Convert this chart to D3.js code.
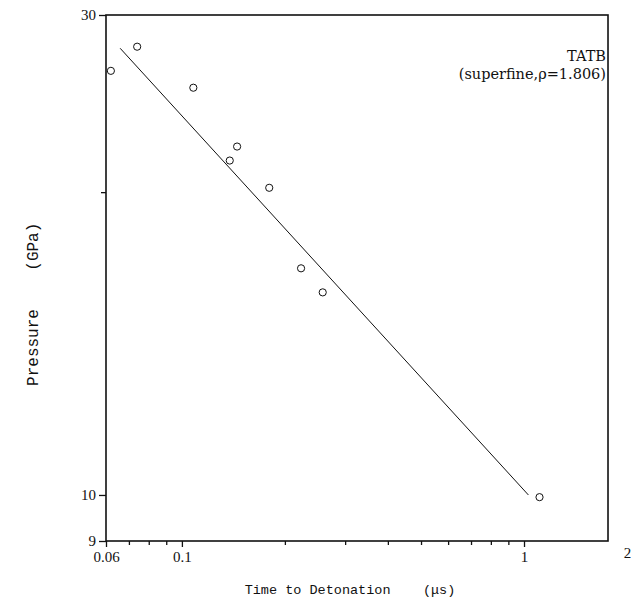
<!DOCTYPE html>
<html>
<head>
<meta charset="utf-8">
<script src="https://cdn.jsdelivr.net/npm/d3@7"></script>
<style>
  body { margin: 0; background: #fff; }
  svg { display: block; }
</style>
</head>
<body>
<svg width="631" height="608"></svg>
<script>
// measured points: time to detonation (us) vs pressure (GPa)
var timeUs      = [0.062, 0.074, 0.108, 0.138, 0.145, 0.180, 0.223, 0.258, 1.11];
var pressureGPa = [26.4,  27.9,  25.4,  21.5,  22.2,  20.2,  16.8,  15.9,  9.95];

// fitted line end points
var fitTime     = [0.066, 1.03];
var fitPressure = [27.8, 10.0];

var xTickValues = [0.06, 0.1, 1, 2];
var xTickLabels = ["0.06", "0.1", "1", "2"];
var xMinorTicks = [0.07, 0.08, 0.09, 0.2, 0.3, 0.4, 0.5, 0.6, 0.7, 0.8, 0.9];
var yTickValues = [9, 10, 30];
var yTickLabels = ["9", "10", "30"];
var yMinorTicks = [20];

var xDomain = [0.06, 2],
    yDomain = [9, 30],
    xFrameEnd = 1.76;   // right edge of the box in the original

var svg = d3.select("svg"),
    margin = {top: 15, left: 106},
    width = 521,
    height = 526,
    g = svg.append("g").attr("transform", "translate(" + margin.left + "," + margin.top + ")");

var x = d3.scaleLog().domain(xDomain).range([0, width]),
    y = d3.scaleLog().domain(yDomain).range([height, 0]);

var ink = "#111";

// frame
g.append("rect")
    .attr("x", x(xDomain[0]))
    .attr("y", y(yDomain[1]))
    .attr("width", x(xFrameEnd) - x(xDomain[0]))
    .attr("height", y(yDomain[0]) - y(yDomain[1]))
    .attr("fill", "none")
    .attr("stroke", ink)
    .attr("stroke-width", 1.6);

// bottom axis
var xAxis = g.append("g")
    .attr("transform", "translate(0," + height + ")")
    .call(d3.axisBottom(x)
      .tickValues(xTickValues)
      .tickFormat(function(d, i) { return xTickLabels[i]; })
      .tickSize(6)
      .tickPadding(4));

g.append("g")
    .attr("transform", "translate(0," + height + ")")
    .call(d3.axisBottom(x).tickValues(xMinorTicks).tickFormat("").tickSize(4));

// left axis
g.append("g")
    .call(d3.axisLeft(y)
      .tickValues(yTickValues)
      .tickFormat(function(d, i) { return yTickLabels[i]; })
      .tickSize(7)
      .tickPadding(3));

g.append("g")
    .call(d3.axisLeft(y).tickValues(yMinorTicks).tickFormat("").tickSize(5));

g.selectAll(".domain").remove();
g.selectAll(".tick line").attr("stroke", ink).attr("stroke-width", 1.3);
g.selectAll(".tick text")
    .attr("fill", ink)
    .style("font", "15px 'Liberation Serif', serif");

// the "2" sits past the box, a little higher, with no tick
var two = xAxis.selectAll(".tick").filter(function(d) { return d === 2; });
two.select("line").remove();
two.select("text").attr("y", 6);

// fit line
var line = d3.line()
    .x(function(d) { return x(d[0]); })
    .y(function(d) { return y(d[1]); });

g.append("path")
    .datum(d3.zip(fitTime, fitPressure))
    .attr("d", line)
    .attr("fill", "none")
    .attr("stroke", ink)
    .attr("stroke-width", 1);

// points
g.selectAll(".pt")
    .data(d3.zip(timeUs, pressureGPa))
  .enter().append("circle")
    .attr("class", "pt")
    .attr("cx", function(d) { return x(d[0]); })
    .attr("cy", function(d) { return y(d[1]); })
    .attr("r", 3.6)
    .attr("fill", "none")
    .attr("stroke", ink)
    .attr("stroke-width", 1);

// label
var note = g.append("text")
    .attr("text-anchor", "end")
    .attr("fill", ink)
    .style("font", "14.5px 'DejaVu Serif', serif");
note.append("tspan").attr("x", x(xFrameEnd) - 2).attr("y", 46).text("TATB");
note.append("tspan").attr("x", x(xFrameEnd) - 2).attr("y", 64).text("(superfine,\u03c1=1.806)");

// axis titles
svg.append("text")
    .attr("x", 350)
    .attr("y", 594)
    .attr("text-anchor", "middle")
    .attr("fill", ink)
    .style("font", "13.5px 'Liberation Mono', monospace")
    .style("white-space", "pre")
    .text("Time to Detonation    (\u03bcs)");

svg.append("text")
    .attr("transform", "translate(38," + (margin.top + height * 0.55) + ") rotate(-90)")
    .attr("text-anchor", "middle")
    .attr("fill", ink)
    .style("font", "16px 'Liberation Mono', monospace")
    .style("white-space", "pre")
    .text("Pressure    (GPa)");
</script>
</body>
</html>
